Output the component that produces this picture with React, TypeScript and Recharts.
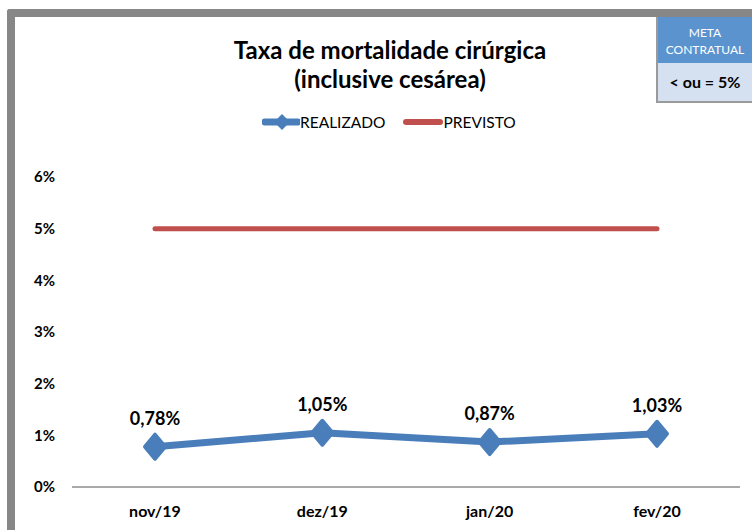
import React from "react";
import { LineChart, Line, XAxis, YAxis, LabelList } from "recharts";

const categories = ["nov/19", "dez/19", "jan/20", "fev/20"];
const realizado = [0.78, 1.05, 0.87, 1.03];
const previsto = [5, 5, 5, 5];
const yTicks = [0, 1, 2, 3, 4, 5, 6];

const data = categories.map((c, i) => ({ name: c, realizado: realizado[i], previsto: previsto[i] }));

const FONT = "Lato, 'Open Sans', sans-serif";
const BLUE = "#4a7ebb";
const RED = "#c0504d";

const Diamond = (props: any) => {
  const { cx, cy } = props;
  if (cx == null || cy == null) return null;
  const w = 10, h = 12;
  return (
    <polygon
      points={`${cx},${cy - h} ${cx + w},${cy} ${cx},${cy + h} ${cx - w},${cy}`}
      fill={BLUE}
      stroke={BLUE}
      strokeWidth={4}
      strokeLinejoin="round"
    />
  );
};

const fmt = (v: number) => v.toFixed(2).replace(".", ",") + "%";

export default function App() {
  return (
    <div style={{ position: "absolute", left: 0, top: 0, width: 752, height: 530, background: "#fff", overflow: "hidden", fontFamily: FONT }}>
      {/* border */}
      <div style={{ position: "absolute", left: 7, top: 9, width: 760, height: 540, borderLeft: "8px solid #878787", borderTop: "8px solid #878787", borderTopLeftRadius: 3, boxSizing: "border-box" }} />
      {/* meta box */}
      <div style={{ position: "absolute", left: 656, top: 17, width: 96, height: 86, borderLeft: "2px solid #9a9a9a", borderBottom: "2px solid #9a9a9a", boxSizing: "border-box" }}>
        <div style={{ height: 46, background: "#5b93cf", color: "#fff", fontSize: 12, fontWeight: 400, textAlign: "center", lineHeight: "17px", paddingTop: 7, boxSizing: "border-box" }}>
          META<br />CONTRATUAL
        </div>
        <div style={{ height: 38, background: "#d5e0f1", color: "#000", fontSize: 16, fontWeight: 700, textAlign: "center", lineHeight: "38px" }}>
          {"< ou = 5%"}
        </div>
      </div>
      {/* title */}
      <div style={{ position: "absolute", left: 0, top: 35, width: 780, textAlign: "center", fontSize: 24, fontWeight: 700, lineHeight: "29px", color: "#000" }}>
        Taxa de mortalidade cirúrgica<br />(inclusive cesárea)
      </div>
      {/* legend */}
      <div style={{ position: "absolute", left: 262, top: 112, height: 20, display: "flex", alignItems: "center", fontSize: 15.5, color: "#000" }}>
        <svg width={38} height={20}>
          <line x1={3} y1={10} x2={36} y2={10} stroke={BLUE} strokeWidth={7} strokeLinecap="round" />
          <polygon points="20,2 28,10 20,18 12,10" fill={BLUE} />
        </svg>
        <span style={{ marginRight: 18 }}>REALIZADO</span>
        <svg width={40} height={20}>
          <line x1={3} y1={10} x2={37} y2={10} stroke={RED} strokeWidth={6} strokeLinecap="round" />
        </svg>
        <span>PREVISTO</span>
      </div>
      <div style={{ position: "absolute", left: 0, top: 0 }}>
        <LineChart width={752} height={530} data={data} margin={{ top: 177, right: 12, bottom: 13, left: 0 }}>
          <XAxis
            dataKey="name"
            padding={{ left: 83, right: 83 }}
            axisLine={{ stroke: "#8c8c8c", strokeWidth: 1.5 }}
            tickLine={false}
            tickSize={0}
            tickMargin={19}
            height={30}
            tick={{ fill: "#000", fontSize: 16, fontWeight: 700, fontFamily: FONT }}
          />
          <YAxis
            domain={[0, 6]}
            ticks={yTicks}
            width={72}
            axisLine={false}
            tickLine={false}
            tickSize={0}
            tickMargin={17}
            tickFormatter={(v: number) => `${v}%`}
            tick={{ fill: "#000", fontSize: 15, fontWeight: 700, fontFamily: FONT }}
          />
          <Line
            dataKey="previsto"
            stroke={RED}
            strokeWidth={5}
            strokeLinecap="round"
            dot={false}
            activeDot={false}
            isAnimationActive={false}
          />
          <Line
            dataKey="realizado"
            stroke={BLUE}
            strokeWidth={7}
            strokeLinejoin="round"
            dot={<Diamond />}
            activeDot={false}
            isAnimationActive={false}
          >
            <LabelList
              dataKey="realizado"
              position="top"
              offset={22}
              formatter={(v: any) => fmt(Number(v))}
              style={{ fill: "#000", fontSize: 18, fontWeight: 700, fontFamily: FONT }}
            />
          </Line>
        </LineChart>
      </div>
    </div>
  );
}
